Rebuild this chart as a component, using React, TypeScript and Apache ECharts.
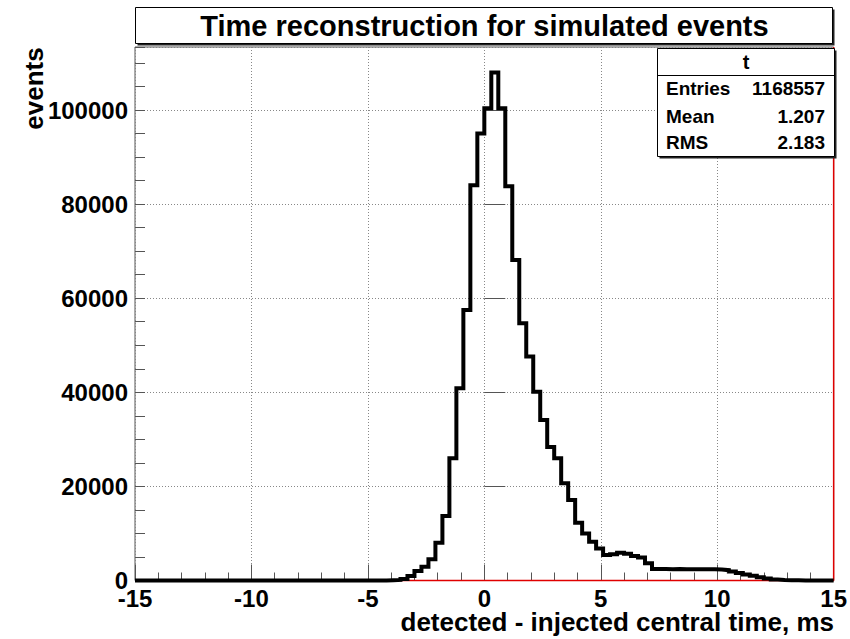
import React, { useEffect, useRef } from "react";
import * as echarts from "echarts";

const binLow = -15;
const binWidth = 0.3;
// 100 bin contents, from -15 to 15
const counts: number[] = [
  0, 0, 0, 0, 0, 0, 0, 0, 0, 0,
  0, 0, 0, 0, 0, 0, 0, 0, 0, 0,
  0, 0, 0, 0, 0, 0, 0, 0, 0, 0,
  0, 0, 0, 0, 0, 0, 50, 120, 300, 960,
  2000, 2900, 4500, 8000, 13700, 26000, 40850, 57500, 84000, 95000,
  100400, 108000, 100400, 83800, 68100, 54700, 47600, 40100, 34100, 28400,
  26000, 20650, 17100, 12300, 10000, 8250, 6800, 5400, 5600, 5900,
  5700, 5200, 4900, 3650, 2450, 2450, 2400, 2450, 2400, 2400,
  2400, 2400, 2400, 2350, 2200, 1900, 1600, 1300, 1000, 700,
  400, 200, 100, 50, 30, 20, 10, 0, 0, 0,
];

const xMin = -15;
const xMax = 15;
const yMax = 113400;
const yLabelValues = [0, 20000, 40000, 60000, 80000, 100000];

const titleText = "Time reconstruction for simulated events";
const xTitle = "detected - injected central time, ms";
const yTitle = "events";
const statsName = "t";
const statsRows: [string, string][] = [
  ["Entries", "1168557"],
  ["Mean", "1.207"],
  ["RMS", "2.183"],
];

const FONT = "'Liberation Sans', Arial, Helvetica, sans-serif";

export default function App() {
  const ref = useRef<HTMLDivElement>(null);
  useEffect(() => {
    if (!ref.current) return;
    const chart = echarts.init(ref.current, undefined, { renderer: "svg" });

    const histPts: number[][] = [];
    counts.forEach((c, i) => {
      const lo = binLow + i * binWidth;
      const hi = lo + binWidth;
      histPts.push([lo, c]);
      histPts.push([hi, c]);
    });

    const statsX = 657.5;
    const statsY = 48.5;
    const statsW = 177;
    const statsH = 108;
    const rowYs = [88, 116, 142.5];

    const graphics: any[] = [
      { type: "rect", shape: { x: 137.5, y: 9.5, width: 697, height: 36 }, style: { fill: "#222" }, z: 10 },
      { type: "rect", shape: { x: 135.5, y: 7.5, width: 697, height: 36 }, style: { fill: "#fff", stroke: "#000", lineWidth: 1 }, z: 11 },
      {
        type: "text", x: 484.5, y: 26, z: 12,
        style: { text: titleText, font: `bold 29px ${FONT}`, fill: "#000", align: "center", verticalAlign: "middle" },
      },
      { type: "rect", shape: { x: statsX + 2, y: statsY + 2, width: statsW, height: statsH }, style: { fill: "#222" }, z: 10 },
      { type: "rect", shape: { x: statsX, y: statsY, width: statsW, height: statsH }, style: { fill: "#fff", stroke: "#000", lineWidth: 1 }, z: 11 },
      { type: "line", shape: { x1: statsX, y1: 75.5, x2: statsX + statsW, y2: 75.5 }, style: { stroke: "#000", lineWidth: 1 }, z: 12 },
      {
        type: "text", x: statsX + statsW / 2, y: 62, z: 12,
        style: { text: statsName, font: `bold 20px ${FONT}`, fill: "#000", align: "center", verticalAlign: "middle" },
      },
      {
        type: "text", x: 34, y: 88.5, rotation: Math.PI / 2, z: 12,
        style: { text: yTitle, font: `bold 26px ${FONT}`, fill: "#000", align: "center", verticalAlign: "middle", lineHeight: 20 },
      },
      {
        type: "text", x: 834, y: 622, z: 12,
        style: { text: xTitle, font: `bold 26px ${FONT}`, fill: "#000", align: "right", verticalAlign: "middle", lineHeight: 20 },
      },
    ];
    statsRows.forEach(([k, v], i) => {
      graphics.push({
        type: "text", x: 666, y: rowYs[i], z: 12,
        style: { text: k, font: `bold 19px ${FONT}`, fill: "#000", align: "left", verticalAlign: "middle" },
      });
      graphics.push({
        type: "text", x: 825, y: rowYs[i], z: 12,
        style: { text: v, font: `bold 19px ${FONT}`, fill: "#000", align: "right", verticalAlign: "middle" },
      });
    });

    chart.setOption({
      animation: false,
      backgroundColor: "#fff",
      grid: {
        left: 135, right: 15, top: 47, bottom: 58.5,
        show: true, borderColor: "#555", borderWidth: 1, backgroundColor: "#fff",
        containLabel: false,
      },
      xAxis: {
        type: "value", min: xMin, max: xMax, interval: 5,
        axisLine: { show: false },
        axisTick: { show: true, inside: true, length: 16, lineStyle: { color: "#555", width: 1 } },
        minorTick: { show: true, splitNumber: 5, length: 8, lineStyle: { color: "#555", width: 1 } },
        axisLabel: { margin: 9, color: "#000", fontSize: 24, fontWeight: "bold", fontFamily: FONT, lineHeight: 17 },
        splitLine: { show: true, lineStyle: { color: "#888", type: [1, 2], width: 1 } },
      },
      yAxis: [
        {
          type: "value", min: 0, max: yMax, interval: 20000,
          axisLine: { show: false },
          axisTick: { show: true, inside: true, length: 21, lineStyle: { color: "#555", width: 1 } },
          axisLabel: {
            margin: 7, color: "#000", fontSize: 24, fontWeight: "bold", fontFamily: FONT, lineHeight: 17,
            showMaxLabel: false,
            formatter: (v: number) => (yLabelValues.includes(v) ? String(v) : ""),
          },
          splitLine: { show: true, lineStyle: { color: "#888", type: [1, 2], width: 1 } },
        },
        {
          type: "value", min: 0, max: yMax, interval: 5000, position: "left",
          axisLine: { show: false },
          axisTick: { show: true, inside: true, length: 10, lineStyle: { color: "#555", width: 1 } },
          axisLabel: { show: false },
          splitLine: { show: false },
        },
      ],
      series: [
        {
          type: "line",
          data: [[xMin, 0], [xMax, 0], [xMax, yMax]],
          yAxisIndex: 0,
          showSymbol: false,
          clip: false,
          lineStyle: { color: "#e00000", width: 1.5 },
          z: 2,
          silent: true,
        },
        {
          type: "line",
          data: histPts,
          yAxisIndex: 0,
          showSymbol: false,
          clip: false,
          lineStyle: { color: "#000", width: 4, join: "miter", cap: "butt" },
          z: 3,
          silent: true,
        },
      ],
      graphic: graphics,
    });
    return () => chart.dispose();
  }, []);
  return (
    <div
      ref={ref}
      style={{ position: "absolute", left: 0, top: 0, width: 850, height: 639 }}
    />
  );
}
